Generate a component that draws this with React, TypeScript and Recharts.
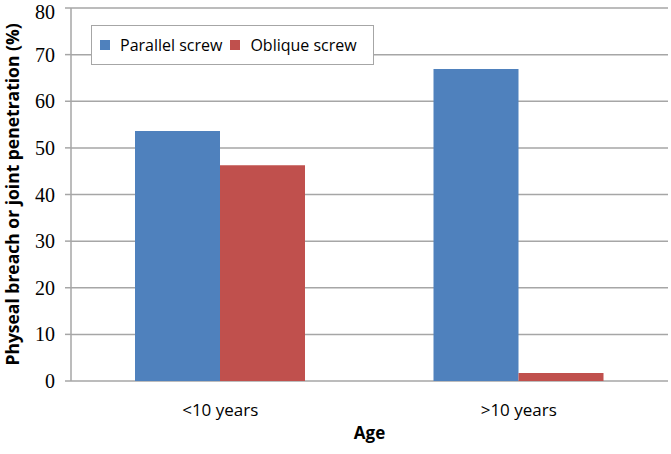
import { BarChart, Bar, XAxis, YAxis, CartesianGrid } from 'recharts'

const CATEGORIES = ['<10 years', '>10 years']
const PARALLEL = [53.6, 66.9]
const OBLIQUE = [46.3, 1.7]
const Y_TICKS = [0, 10, 20, 30, 40, 50, 60, 70, 80]

const SERIES = [
  { key: 'parallel', name: 'Parallel screw', color: '#4f81bd' },
  { key: 'oblique', name: 'Oblique screw', color: '#c0504d' },
]

const data = CATEGORIES.map((c, i) => ({
  name: c,
  idx: i + 0.5,
  parallel: PARALLEL[i],
  oblique: OBLIQUE[i],
}))

const SANS = '"Open Sans", "Liberation Sans", sans-serif'
const GRID = '#a6a6a6'

// legend drawn as an overlay so it doesn't eat plot space
function LegendBox() {
  return (
    <div
      style={{
        position: 'absolute',
        left: 91,
        top: 25,
        display: 'flex',
        alignItems: 'center',
        border: `1.5px solid ${GRID}`,
        background: '#fff',
        padding: '8px 8px',
        fontFamily: SANS,
        fontSize: 16,
        color: '#000',
        whiteSpace: 'nowrap',
      }}
    >
      {SERIES.map(s => (
        <span key={s.key} style={{ display: 'flex', alignItems: 'center', marginRight: 8 }}>
          <span style={{ width: 10, height: 10, background: s.color, display: 'inline-block', marginRight: 10 }} />
          {s.name}
        </span>
      ))}
    </div>
  )
}

export default function App() {
  return (
    <div style={{ position: 'absolute', left: 0, top: 0, width: 671, height: 454, background: '#fff' }}>
      <BarChart
        width={671}
        height={454}
        data={data}
        margin={{ top: 8, right: 3, bottom: 0, left: 0 }}
        barCategoryGap={64}
        barGap={0}
      >
        <CartesianGrid vertical={false} stroke={GRID} strokeWidth={1.5} />
        <XAxis
          xAxisId="ticks"
          dataKey="idx"
          type="number"
          domain={[0, 2]}
          ticks={[0, 1, 2]}
          tick={false}
          tickSize={6}
          tickLine={{ stroke: GRID, strokeWidth: 1.5 }}
          axisLine={false}
          allowDataOverflow
          height={1}
        />
        <XAxis
          dataKey="name"
          xAxisId="cat"
          tickLine={false}
          axisLine={false}
          tick={{ fontFamily: SANS, fontSize: 17, fill: '#000' }}
          tickMargin={17}
          label={{ value: 'Age', position: 'insideBottom', offset: 14, style: { fontFamily: SANS, fontSize: 17, fontWeight: 700, fill: '#000' } }}
          height={72}
        />
        <YAxis
          domain={[0, 80]}
          ticks={Y_TICKS}
          width={71}
          tickSize={6}
          tickMargin={10}
          axisLine={{ stroke: GRID, strokeWidth: 1.5 }}
          tickLine={{ stroke: GRID, strokeWidth: 1.5 }}
          tick={{ fontFamily: '"Liberation Serif", "Times New Roman", serif', fontSize: 20, fill: '#000' }}
          label={{
            value: 'Physeal breach or joint penetration (%)',
            angle: -90,
            position: 'insideLeft',
            offset: 13,
            style: { textAnchor: 'middle', fontFamily: SANS, fontSize: 17.5, fontWeight: 700, fill: '#000' },
          }}
        />
        {SERIES.map(s => (
          <Bar
            key={s.key}
            dataKey={s.key}
            name={s.name}
            xAxisId="cat"
            fill={s.color}
            isAnimationActive={false}
          />
        ))}
      </BarChart>
      <LegendBox />
    </div>
  )
}
